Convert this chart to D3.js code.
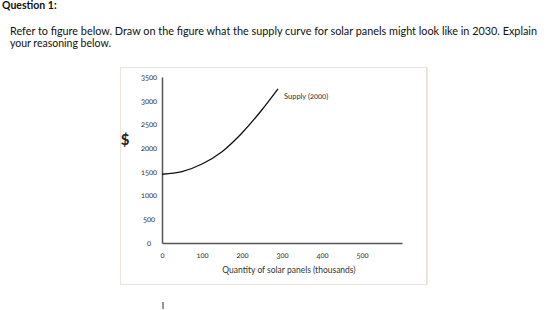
<!DOCTYPE html>
<html>
<head>
<meta charset="utf-8">
<script src="https://cdn.jsdelivr.net/npm/d3@7"></script>
<style>
  body { margin: 0; background: #fff; }
  svg text { font-family: Lato, "Open Sans", sans-serif; }
  .num { font-variant-numeric: oldstyle-nums; font-feature-settings: "onum" 1; }
</style>
</head>
<body>
<svg id="chart" width="560" height="310"></svg>
<script>
// question text
const heading = 'Question 1:';
const questionLines = [
  'Refer to figure below. Draw on the figure what the supply curve for solar panels might look like in 2030. Explain',
  'your reasoning below.'
];

// axes
const xTicks = [0, 100, 200, 300, 400, 500];
const yTicks = [0, 500, 1000, 1500, 2000, 2500, 3000, 3500];
const xTitle = 'Quantity of solar panels (thousands)';
const yTitle = '$';

// supply curve (2000)
const supplyQty = [0, 50, 100, 150, 200, 250, 290];
const supplyPrice = [1450, 1505, 1665, 1925, 2320, 2810, 3250];
const supplyLabel = 'Supply (2000)';

const svg = d3.select('#chart');

// heading + question
svg.append('text')
  .attr('x', 2).attr('y', 9)
  .attr('font-size', 10.5).attr('font-weight', 'bold').attr('fill', '#111')
  .text(heading);

svg.selectAll('.q')
  .data(questionLines)
  .enter()
  .append('text')
  .attr('class', 'q')
  .attr('x', 10)
  .attr('y', (d, i) => 35 + i * 12)
  .attr('font-size', 10.5)
  .attr('fill', '#111')
  .attr('textLength', (d, i) => i === 0 ? 527 : null)
  .attr('lengthAdjust', 'spacingAndGlyphs')
  .text(d => d);

// figure frame
svg.append('rect')
  .attr('x', 120.5).attr('y', 67.5)
  .attr('width', 306).attr('height', 217)
  .attr('fill', '#fff')
  .attr('stroke', '#eee2da').attr('stroke-width', 1);
svg.append('line')
  .attr('x1', 427).attr('x2', 427).attr('y1', 67).attr('y2', 285)
  .attr('stroke', '#f3dccb').attr('stroke-width', 1.5);

const margin = { left: 162, top: 77, right: 402, bottom: 243 };

const x = d3.scaleLinear().domain([0, 600]).range([margin.left, margin.right]);
const y = d3.scaleLinear().domain([0, 3500]).range([margin.bottom, margin.top]);

// axes
const xAxis = svg.append('g')
  .attr('transform', `translate(0,${margin.bottom})`)
  .call(d3.axisBottom(x).tickValues(xTicks).tickFormat(d3.format('d')).tickSize(0).tickPadding(10));
xAxis.select('.domain').attr('stroke', '#555').attr('stroke-width', 1.5);
xAxis.selectAll('text')
  .attr('class', 'num')
  .attr('font-size', 7.5)
  .attr('font-family', 'Lato, sans-serif')
  .attr('fill', '#333');

const yAxis = svg.append('g')
  .attr('transform', `translate(${margin.left},0)`)
  .call(d3.axisLeft(y).tickValues(yTicks).tickFormat(d3.format('d')).tickSize(0).tickPadding(0));
yAxis.select('.domain').attr('stroke', '#555').attr('stroke-width', 1.5);
yAxis.selectAll('text')
  .attr('class', 'num')
  .attr('x', -13)
  .attr('text-anchor', 'middle')
  .attr('font-size', 7.5)
  .attr('font-family', 'Lato, sans-serif')
  .attr('fill', '#333');

// axis titles
svg.append('text')
  .attr('x', 289).attr('y', 273)
  .attr('text-anchor', 'middle')
  .attr('font-size', 8.5)
  .attr('fill', '#333')
  .text(xTitle);

svg.append('text')
  .attr('x', 125).attr('y', 145)
  .attr('text-anchor', 'middle')
  .attr('font-size', 15)
  .attr('font-weight', 'bold')
  .attr('fill', '#222')
  .text(yTitle);

// supply curve
const pts = supplyQty.map((q, i) => [q, supplyPrice[i]]);
const line = d3.line()
  .x(d => x(d[0]))
  .y(d => y(d[1]))
  .curve(d3.curveMonotoneX);

svg.append('path')
  .datum(pts)
  .attr('fill', 'none')
  .attr('stroke', '#111')
  .attr('stroke-width', 1.3)
  .attr('d', line);

const last = pts[pts.length - 1];
svg.append('text')
  .attr('class', 'num')
  .attr('x', x(last[0]) + 6)
  .attr('y', y(last[1]) + 10)
  .attr('font-size', 7.5)
  .attr('fill', '#333')
  .text(supplyLabel);

// text cursor below the figure
svg.append('line')
  .attr('x1', 163).attr('x2', 163).attr('y1', 302).attr('y2', 309)
  .attr('stroke', '#333').attr('stroke-width', 1);
</script>
</body>
</html>
